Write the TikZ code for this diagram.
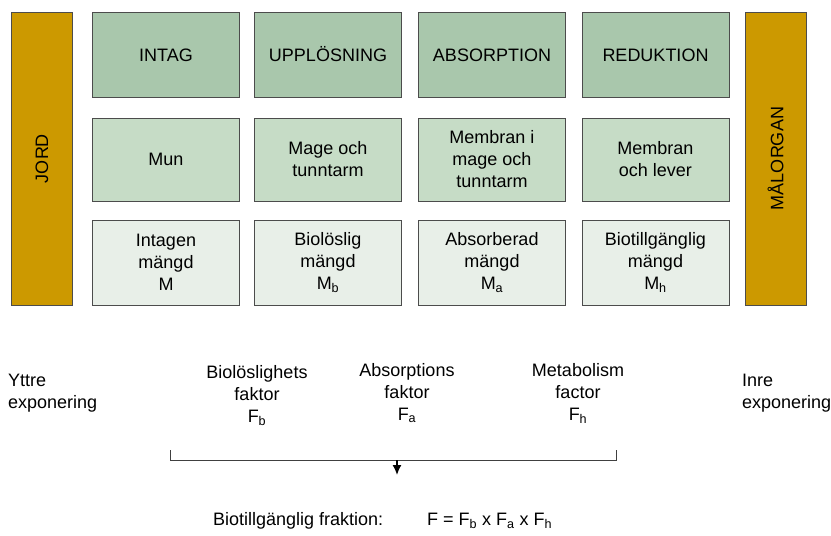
\documentclass[tikz,border=0pt]{standalone}
\usepackage{fontspec}
\setmainfont{Liberation Sans}
\usetikzlibrary{arrows.meta}
\definecolor{stepdark}{HTML}{A9C7AC}
\definecolor{stepmid}{HTML}{C6DCC6}
\definecolor{steplight}{HTML}{E8EFE8}
\definecolor{barcol}{HTML}{CC9900}
\begin{document}
\begin{tikzpicture}[x=1pt, y=-1pt,
    box/.style={draw=black!70, line width=0.8pt, minimum width=147pt, minimum height=85pt, align=center, inner sep=0pt},
    bar/.style={draw=black!70, line width=0.8pt, fill=barcol, minimum width=61pt, minimum height=293pt, inner sep=0pt},
    lbl/.style={align=center, inner sep=0pt}]
    \useasboundingbox (0,0) rectangle (831,536);
    \tikzset{every node/.append style={font=\fontsize{18}{22}\selectfont}}

    % Soil and target organ
    \node[bar] (jord) at (42,158.5) {\rotatebox{90}{JORD}};
    \node[bar] (malorgan) at (775.5,158.5) {\rotatebox{90}{MÅLORGAN}};

    % Steps: process, site, amount
    \foreach \n/\x/\p/\s/\m in {
        intag/166/INTAG/Mun/Intagen\\mängd\\M,
        upplos/328/UPPLÖSNING/Mage och\\tunntarm/Biolöslig\\mängd\\M\textsubscript{b},
        absorp/492/ABSORPTION/Membran i\\mage och\\tunntarm/Absorberad\\mängd\\M\textsubscript{a},
        reduk/655.5/REDUKTION/Membran\\och lever/Biotillgänglig\\mängd\\M\textsubscript{h}} {
        \node[box, fill=stepdark, text height=13pt, text depth=0pt] (\n-p) at (\x,55) {\p};
        \node[box, fill=stepmid, minimum height=83pt] (\n-s) at (\x,159.5) {\s};
        \node[box, fill=steplight] (\n-m) at (\x,262.5) {\m};
    }

    % Exposure
    \node[lbl, anchor=north west, align=left] (yttre) at (8,374) {Yttre\\exponering};
    \node[lbl, anchor=north west, align=left] (inre) at (742,374) {Inre\\exponering};

    % Factors
    \node[lbl, anchor=north] (fb) at (257,365) {Biolöslighets\\faktor\\F\textsubscript{b}};
    \node[lbl, anchor=north] (fa) at (407,363) {Absorptions\\faktor\\F\textsubscript{a}};
    \node[lbl, anchor=north] (fh) at (578,363) {Metabolism\\factor\\F\textsubscript{h}};

    % Bracket and arrow
    \coordinate (brl) at (170,450);
    \coordinate (brr) at (616,450);
    \coordinate (brm) at (397,460);
    \coordinate (brend) at (397,475);
    \draw[black!75, line width=0.8pt] (brl) -- ++(0,10) -| (brr);
    \draw[line width=1.6pt, -{Latex[length=10pt, width=9pt]}] (brm) -- (brend);

    % Result
    \node[lbl, anchor=west] (frak) at (213,521) {Biotillgänglig fraktion:};
    \node[lbl, anchor=west] (formel) at (427,521) {F = F\textsubscript{b} x F\textsubscript{a} x F\textsubscript{h}};
\end{tikzpicture}
\end{document}
